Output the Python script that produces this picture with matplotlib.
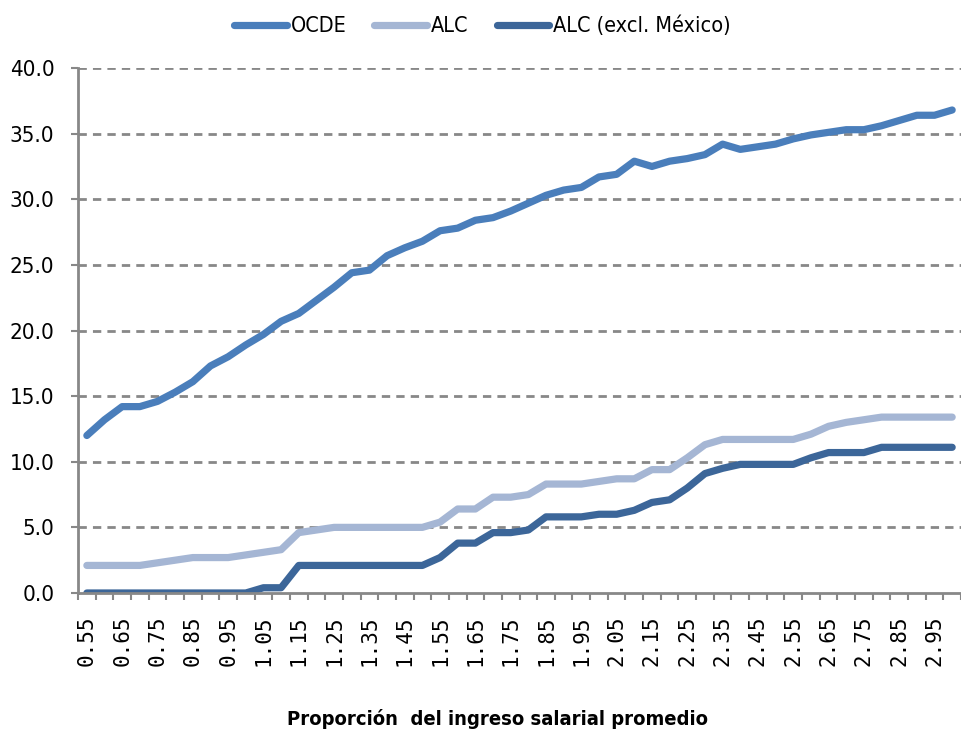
import numpy as np
import matplotlib
matplotlib.use("Agg")
import matplotlib.pyplot as plt

# proporcion del ingreso salarial promedio (0.55 ... 3.00)
x_vals = [round(0.55 + 0.05 * i, 2) for i in range(50)]

ocde = [12.0, 13.2, 14.2, 14.2, 14.6, 15.3, 16.1, 17.3, 18.0, 18.9,
        19.7, 20.7, 21.3, 22.3, 23.3, 24.4, 24.6, 25.7, 26.3, 26.8,
        27.6, 27.8, 28.4, 28.6, 29.1, 29.7, 30.3, 30.7, 30.9, 31.7,
        31.9, 32.9, 32.5, 32.9, 33.1, 33.4, 34.2, 33.8, 34.0, 34.2,
        34.6, 34.9, 35.1, 35.3, 35.3, 35.6, 36.0, 36.4, 36.4, 36.8]

alc = [2.1, 2.1, 2.1, 2.1, 2.3, 2.5, 2.7, 2.7, 2.7, 2.9,
       3.1, 3.3, 4.6, 4.8, 5.0, 5.0, 5.0, 5.0, 5.0, 5.0,
       5.4, 6.4, 6.4, 7.3, 7.3, 7.5, 8.3, 8.3, 8.3, 8.5,
       8.7, 8.7, 9.4, 9.4, 10.3, 11.3, 11.7, 11.7, 11.7, 11.7,
       11.7, 12.1, 12.7, 13.0, 13.2, 13.4, 13.4, 13.4, 13.4, 13.4]

alc_exmx = [0.0, 0.0, 0.0, 0.0, 0.0, 0.0, 0.0, 0.0, 0.0, 0.0,
            0.4, 0.4, 2.1, 2.1, 2.1, 2.1, 2.1, 2.1, 2.1, 2.1,
            2.7, 3.8, 3.8, 4.6, 4.6, 4.8, 5.8, 5.8, 5.8, 6.0,
            6.0, 6.3, 6.9, 7.1, 8.0, 9.1, 9.5, 9.8, 9.8, 9.8,
            9.8, 10.3, 10.7, 10.7, 10.7, 11.1, 11.1, 11.1, 11.1, 11.1]

# condensed look, like the narrow font of the original
plt.rcParams["font.family"] = ["DejaVu Sans"]
plt.rcParams["font.stretch"] = "condensed"

fig = plt.figure(figsize=(9.61, 7.36), dpi=100)
ax = fig.add_axes([0.0812, 0.1943, 0.9188, 0.7133])

idx = np.arange(len(x_vals))
ax.plot(idx, ocde, color="#4a7ebb", lw=5.2, label="OCDE", solid_capstyle="round")
ax.plot(idx, alc, color="#a5b6d4", lw=5.2, label="ALC", solid_capstyle="round")
ax.plot(idx, alc_exmx, color="#3c6699", lw=5.2, label="ALC (excl. México)",
        solid_capstyle="round")

ax.set_xlim(-0.5, 49.1)
ax.set_ylim(0, 40)

# y axis
yt = np.arange(0, 41, 5)
ax.set_yticks(yt)
ax.set_yticklabels([f"{v:.1f}" for v in yt])
for v in yt[1:]:
    ax.axhline(v, color="#888888", lw=2, ls=(0, (3, 2.2)), zorder=0)

# x axis: labels every other category, ticks between categories
ax.set_xticks(idx[::2])
ax.set_xticklabels([f"{v:.2f}" for v in x_vals[::2]])
ax.set_xticks(np.arange(-0.5, 50, 1), minor=True)
ax.tick_params(axis="x", which="major", length=0, pad=16, labelrotation=90,
               labelsize=15)
ax.tick_params(axis="x", which="minor", length=5, width=1.5, color="#888888",
               direction="out")
ax.tick_params(axis="y", length=5, width=1.5, color="#888888", direction="out",
               pad=12, labelsize=16)
for lab in ax.get_xticklabels():
    lab.set_fontfamily(["DejaVu Sans Mono", "DejaVu Sans"])
    lab.set_fontstretch("normal")

for s in ["top", "right"]:
    ax.spines[s].set_visible(False)
for s in ["left", "bottom"]:
    ax.spines[s].set_color("#888888")
    ax.spines[s].set_linewidth(2)

ax.set_xlabel("Proporción  del ingreso salarial promedio", fontsize=14.5,
              fontweight="bold", labelpad=31)
ax.xaxis.label.set_x(0.475)  # the title sits a bit left of the axes centre

leg = fig.legend(loc="upper center", bbox_to_anchor=(0.502, 1.005), ncol=3,
                 frameon=False, prop={"size": 15.5, "stretch": "condensed"},
                 handlelength=2.45, columnspacing=1.3, handletextpad=0.18)

fig.savefig("out.png", dpi=100)
